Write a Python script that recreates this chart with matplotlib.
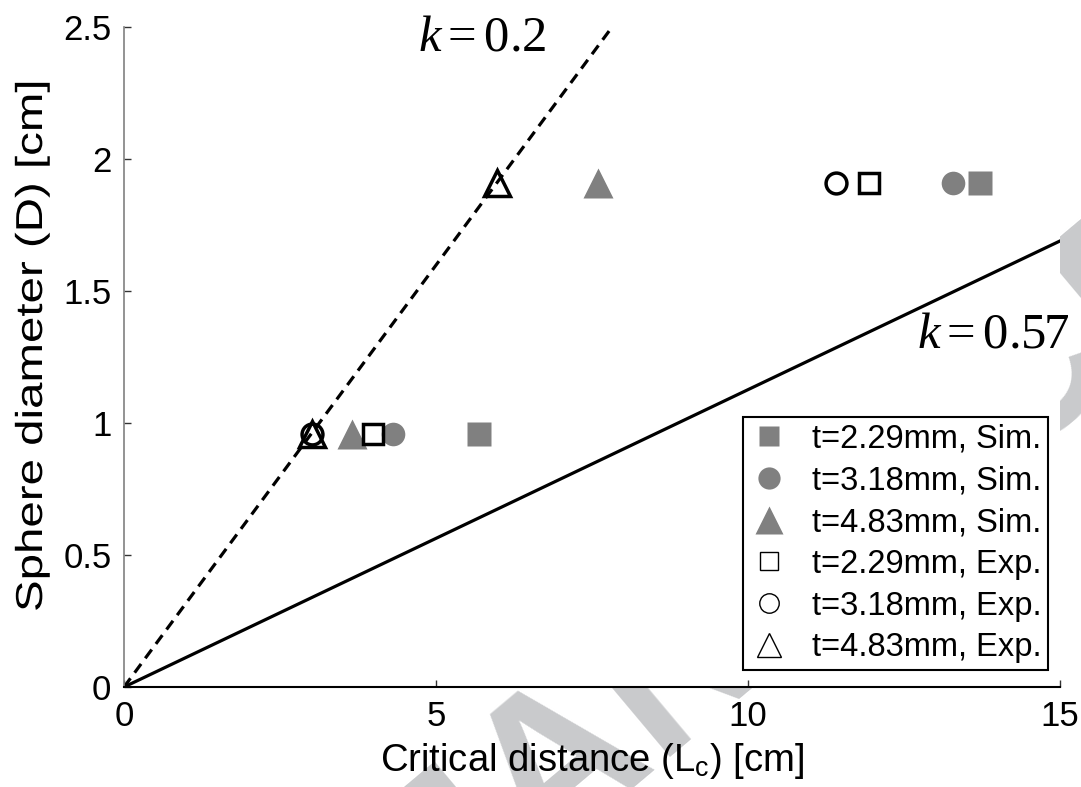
import matplotlib
matplotlib.use("Agg")
import matplotlib.pyplot as plt
from matplotlib.lines import Line2D
from matplotlib.textpath import TextPath
from matplotlib.patches import PathPatch
from matplotlib.font_manager import FontProperties
from matplotlib.transforms import Affine2D

plt.rcParams['font.family'] = ['Liberation Sans', 'DejaVu Sans']
plt.rcParams['mathtext.fontset'] = 'custom'
plt.rcParams['mathtext.rm'] = 'Liberation Serif'
plt.rcParams['mathtext.it'] = 'Liberation Serif:italic'
plt.rcParams['mathtext.sf'] = 'Liberation Sans'

# fitted lines D = Lc * slope
k02_x = [0, 7.82]
k02_y = [0, 2.5]
k057_x = [0, 15]
k057_y = [0, 1.69]

# simulation results (gray, filled)
sim_229_x = [5.69, 13.72]
sim_229_y = [0.96, 1.91]
sim_318_x = [4.31, 13.29]
sim_318_y = [0.96, 1.91]
sim_483_x = [3.65, 7.60]
sim_483_y = [0.96, 1.91]

# experiments (black, open)
exp_229_x = [3.99, 11.94]
exp_229_y = [0.96, 1.91]
exp_318_x = [3.01, 11.41]
exp_318_y = [0.96, 1.91]
exp_483_x = [3.01, 5.98]
exp_483_y = [0.96, 1.91]

labels = ['t=2.29mm, Sim.', 't=3.18mm, Sim.', 't=4.83mm, Sim.',
          't=2.29mm, Exp.', 't=3.18mm, Exp.', 't=4.83mm, Exp.']

gray = '#808080'

fig = plt.figure(figsize=(10.81, 7.87), dpi=100)
ax = fig.add_axes([0.1147, 0.127, 0.866, 0.8386])

# watermark behind the axes
fig.text(0.37, -0.235, 'MANUSCRIPT', fontsize=155, fontweight='bold',
         color='#c9cacc', rotation=40, rotation_mode='anchor',
         ha='left', va='baseline', zorder=-5)

ax.plot(k02_x, k02_y, color='k', lw=2.3, ls=(0, (3.4, 2.2)), zorder=2)
ax.plot(k057_x, k057_y, color='k', lw=2.3, zorder=2)

ax.plot(sim_229_x, sim_229_y, 's', color=gray, ms=17, mec='none', zorder=3)
ax.plot(sim_318_x, sim_318_y, 'o', color=gray, ms=17, mec='none', zorder=3)
ax.plot(sim_483_x, sim_483_y, '^', color=gray, ms=22, mec='none', zorder=3)
ax.plot(exp_229_x, exp_229_y, 's', mfc='none', mec='k', mew=2.5, ms=15, zorder=4)
ax.plot(exp_318_x, exp_318_y, 'o', mfc='none', mec='k', mew=2.5, ms=15, zorder=4)
ax.plot(exp_483_x, exp_483_y, '^', mfc='none', mec='k', mew=2.5, ms=19, zorder=4)

ax.text(4.71, 2.41, r'$k=0.2$', fontsize=36.5)
ax.text(12.71, 1.288, r'$k=0.57$', fontsize=36.5, clip_on=False)

handles = [
    Line2D([], [], ls='none', marker='s', color=gray, mec='none', ms=15),
    Line2D([], [], ls='none', marker='o', color=gray, mec='none', ms=16),
    Line2D([], [], ls='none', marker='^', color=gray, mec='none', ms=20),
    Line2D([], [], ls='none', marker='s', mfc='none', mec='k', mew=1, ms=13),
    Line2D([], [], ls='none', marker='o', mfc='none', mec='k', mew=1, ms=14),
    Line2D([], [], ls='none', marker='^', mfc='none', mec='k', mew=1, ms=17),
]
leg = ax.legend(handles, labels, loc='lower right', bbox_to_anchor=(0.987, 0.026),
                fontsize=23.5, frameon=True, fancybox=False, framealpha=1,
                edgecolor='k', handlelength=1.2, handletextpad=0.7,
                labelspacing=0.33, borderpad=0.2, borderaxespad=0)
leg.get_frame().set_linewidth(1.5)

ax.set_xlim(0, 15)
ax.set_ylim(0, 2.5)
ax.set_xticks([0, 5, 10, 15])
ax.set_xticklabels(['0', '5', '10', '15'])
ax.set_yticks([0, 0.5, 1, 1.5, 2, 2.5])
ax.set_yticklabels(['0', '0.5', '1', '1.5', '2', '2.5'])
ax.tick_params(direction='in', length=5, width=1, color='#333333',
               labelsize=25, pad=9)

for side in ['top', 'right']:
    ax.spines[side].set_visible(False)
ax.spines['left'].set_color(gray)
ax.spines['left'].set_linewidth(1.2)
ax.spines['bottom'].set_color('k')
ax.spines['bottom'].set_linewidth(1.5)

ax.set_xlabel(r'Critical distance (L$_\mathsf{c}$) [cm]', fontsize=27.5, labelpad=6)

# y label is drawn as a path so it can be stretched along its length
ylab = TextPath((0, 0), 'Sphere diameter (D) [cm]', size=1,
                prop=FontProperties(family='Liberation Sans'))
ylab_w = ylab.get_extents().width
ylab_tr = (Affine2D().scale(527 / ylab_w, 37.5).rotate_deg(90)
           .translate(42, 787 - 612))
fig.add_artist(PathPatch(ylab, transform=ylab_tr, color='k', lw=0))

fig.savefig('out.png', dpi=100)
